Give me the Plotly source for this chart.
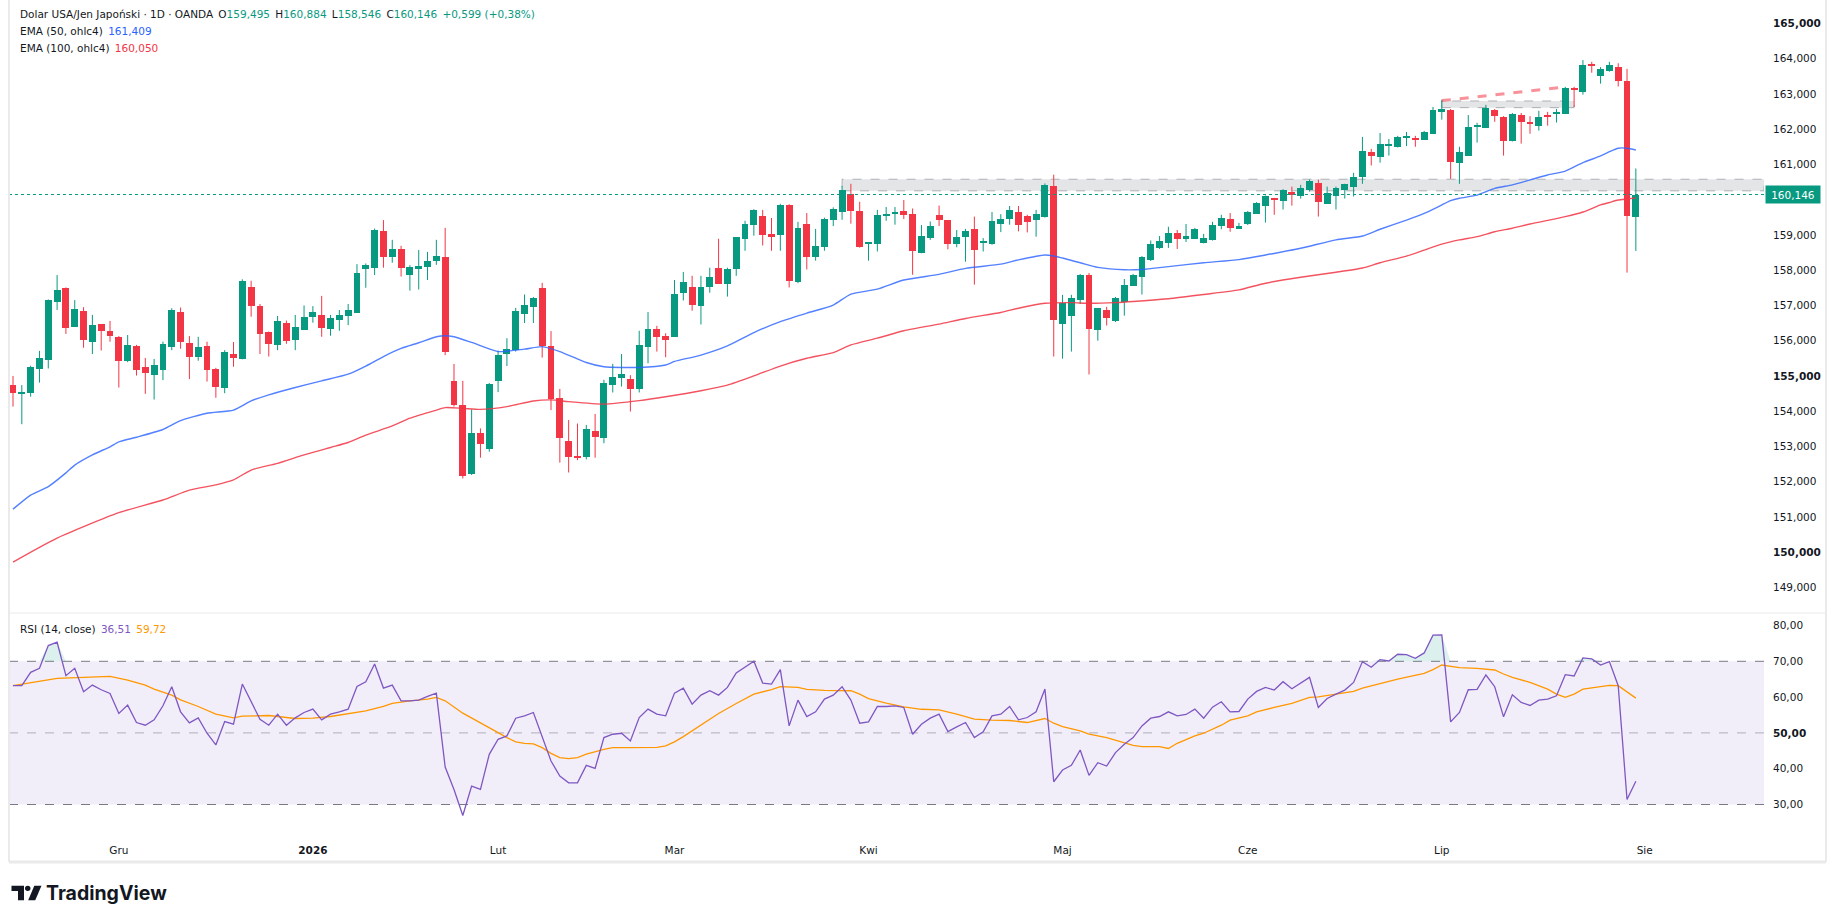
import plotly.graph_objects as go
import pandas as pd

W, H = 1835, 923

# ---------------- data ----------------
start_date = "2025-11-13"
end_date = "2026-07-31"
holidays = ["2025-12-25", "2026-01-01"]

open_ = [154.74,154.51,154.52,155.21,155.45,157.11,157.49,156.40,156.84,155.97,
156.47,156.27,156.11,155.42,155.86,155.25,155.04,155.17,155.83,156.81,
155.92,155.55,155.85,155.20,154.67,155.62,155.49,157.51,156.98,156.25,
155.88,156.51,156.02,156.30,156.68,156.73,156.34,156.60,156.71,156.79,
158.03,158.07,159.11,158.38,158.60,157.87,158.04,158.10,158.26,158.37,
154.86,154.17,152.22,153.38,152.94,154.86,155.63,155.73,156.77,156.96,
157.49,155.86,154.37,153.16,152.73,152.69,153.45,153.23,154.75,154.94,
154.90,154.64,155.83,156.33,156.13,156.11,157.36,157.53,156.99,157.53,
158.06,157.62,158.02,158.87,159.29,159.54,159.03,159.01,159.85,157.65,
159.31,158.38,158.67,159.43,159.66,160.17,159.68,158.75,158.75,159.56,
159.61,159.68,159.59,158.50,158.92,159.57,159.41,158.75,158.94,159.17,
158.79,158.75,159.32,159.45,159.65,159.54,159.41,159.51,160.39,156.48,
156.71,157.15,157.86,156.30,156.87,156.56,157.10,157.56,157.81,158.29,
158.63,158.77,159.06,158.87,158.89,158.78,158.86,159.25,159.45,159.18,
159.32,159.60,159.83,160.03,159.97,160.22,160.09,160.28,160.47,159.89,
160.11,160.28,160.37,160.63,161.35,161.22,161.53,161.48,161.77,161.75,
161.70,161.86,162.50,162.54,161.05,161.25,162.07,162.04,162.53,162.35,
161.67,162.40,162.19,162.10,162.40,162.43,162.44,163.15,163.06,163.84,
163.52,163.66,163.75,163.37,159.495]

high = [155.00,154.74,155.29,155.71,157.17,157.86,157.51,157.15,156.95,156.73,
156.47,156.56,156.13,156.16,155.88,155.51,155.48,155.97,156.92,156.94,
156.13,156.11,155.97,155.23,155.73,155.96,157.74,157.70,157.04,156.26,
156.70,156.57,156.73,157.00,156.98,157.27,156.73,156.87,157.04,158.17,
158.19,159.18,159.42,158.86,158.69,158.14,158.57,158.52,158.86,159.20,
155.34,154.86,154.05,153.51,154.80,155.72,156.07,156.93,157.31,157.24,
157.64,156.27,154.63,153.75,153.65,153.61,153.92,154.89,155.34,155.62,
155.02,156.28,156.81,156.42,156.21,157.72,157.95,157.84,157.84,158.07,
158.89,158.07,158.94,159.40,159.73,159.71,159.48,159.88,159.87,159.37,
159.62,159.17,159.49,159.78,160.39,160.45,159.94,158.80,159.71,159.79,
159.79,159.99,159.75,159.28,159.38,159.83,159.42,159.14,159.17,159.52,
158.91,159.65,159.59,159.82,159.82,159.57,159.71,160.46,160.71,157.30,
157.30,157.89,157.92,156.93,156.96,157.24,157.75,157.89,158.40,158.84,
158.97,159.23,159.14,159.31,159.20,159.03,159.37,159.57,159.62,159.34,
159.68,159.93,160.12,160.05,160.30,160.37,160.42,160.57,160.57,160.37,
160.37,160.45,160.76,161.78,161.44,161.89,161.72,161.81,161.92,161.81,
161.95,162.63,162.83,162.57,161.50,162.40,162.18,162.69,162.57,162.37,
162.46,162.46,162.37,162.52,162.49,162.57,163.20,163.20,163.96,163.91,
163.76,163.91,163.87,163.71,160.884]

low = [154.13,153.63,154.41,154.81,155.21,156.87,156.19,156.40,155.80,155.62,
155.72,155.97,154.67,155.39,155.01,154.49,154.33,154.88,155.73,155.77,
154.91,155.43,154.84,154.38,154.51,155.26,155.47,156.68,155.62,155.55,
155.73,155.91,155.73,156.30,156.51,156.11,156.14,156.28,156.44,156.79,
157.50,157.86,158.07,158.21,157.82,157.42,157.45,157.72,158.15,155.59,
154.13,152.09,152.19,152.68,152.85,154.54,155.28,155.69,156.50,156.50,
155.52,154.03,152.54,152.26,152.61,152.63,152.68,153.09,154.53,154.70,
153.99,154.53,155.36,155.69,155.53,156.11,157.14,156.85,156.46,157.36,
157.62,157.25,157.84,158.55,158.98,158.70,158.55,158.55,157.51,157.63,
158.02,158.27,158.55,159.25,159.43,159.32,158.64,158.27,158.53,159.40,
159.29,159.45,157.87,158.48,158.86,159.25,158.59,158.65,158.24,157.59,
158.53,158.72,159.08,159.29,159.10,159.07,158.95,159.49,155.55,155.49,
155.69,157.04,155.04,156.00,156.43,156.53,156.71,157.56,157.31,158.26,
158.60,158.63,158.60,158.80,158.89,158.76,158.84,159.16,159.09,159.18,
159.28,159.60,159.35,159.57,159.72,159.83,160.03,160.23,159.52,159.89,
159.72,160.03,160.09,160.45,160.97,161.05,161.25,161.48,161.52,161.50,
161.70,161.86,162.27,160.59,160.45,161.25,161.62,162.03,162.21,161.25,
161.65,161.59,161.87,161.96,162.10,162.19,162.44,162.63,162.98,163.60,
163.29,163.63,163.21,157.93,158.546]

close = [154.51,154.52,155.26,155.51,157.15,157.44,156.37,156.90,156.02,156.44,
156.26,156.13,155.43,155.88,155.17,155.09,155.31,155.91,156.87,155.97,
155.55,155.82,155.17,154.69,155.68,155.52,157.69,156.99,156.20,155.91,
156.56,156.00,156.40,156.68,156.81,156.37,156.65,156.74,156.87,157.92,
158.15,159.15,158.38,158.60,158.07,158.10,158.12,158.26,158.40,155.68,
154.17,152.16,153.38,153.07,154.77,155.59,155.76,156.85,157.01,157.22,
155.86,154.34,153.25,152.71,152.68,153.49,153.28,154.79,154.96,155.06,
154.64,155.88,156.33,156.09,156.02,157.33,157.67,157.02,157.53,157.82,
157.62,158.03,158.94,159.31,159.71,159.01,158.95,159.85,157.68,159.20,
158.38,158.69,159.46,159.73,160.27,159.68,158.67,158.77,159.57,159.59,
159.65,159.57,158.53,158.97,159.25,159.41,158.75,158.94,159.11,158.57,
158.81,159.40,159.45,159.71,159.29,159.38,159.59,160.43,156.59,157.06,
157.21,157.86,156.33,156.93,156.65,157.21,157.58,157.86,158.36,158.74,
158.83,159.06,158.89,158.97,159.17,158.91,159.28,159.48,159.21,159.25,
159.65,159.91,160.09,160.00,160.27,160.14,160.33,160.53,159.92,160.19,
160.34,160.45,160.65,161.38,161.25,161.58,161.55,161.78,161.79,161.70,
161.92,162.54,162.56,161.07,161.35,162.06,162.11,162.60,162.36,161.65,
162.43,162.21,162.16,162.35,162.37,162.47,163.17,163.12,163.82,163.81,
163.71,163.82,163.38,159.547,160.146]

ema50_idx = [0,2,4,6,7,9,11,12,14,17,19,22,25,27,29,32,35,38,40,42,44,46,48,49,50,52,55,58,60,62,65,
             67,71,74,75,78,81,84,87,90,93,95,98,101,105,108,112,114,117,118,121,123,126,128,131,
             135,139,142,146,150,153,155,158,160,162,163,164,166,168,170,172,174,176,178,180,181,182,183,184]
ema50 = [151.22,151.62,151.86,152.25,152.47,152.76,152.99,153.13,153.26,153.48,153.73,153.94,154.03,154.29,
         154.46,154.67,154.86,155.05,155.28,155.55,155.78,155.94,156.11,156.14,156.11,155.95,155.69,155.76,
         155.83,155.69,155.38,
         155.26,155.24,155.31,155.41,155.59,155.85,156.23,156.54,156.78,157.01,157.32,157.46,157.72,157.88,
         158.05,158.17,158.29,158.43,158.40,158.21,158.08,158.01,158.02,158.10,
         158.21,158.30,158.43,158.62,158.86,158.97,159.16,159.42,159.61,159.85,159.97,160.04,160.13,160.32,
         160.42,160.56,160.70,160.81,161.05,161.24,161.36,161.46,161.46,161.41]

ema100_idx = [0,5,12,17,20,23,25,27,30,33,36,38,40,43,45,48,49,51,53,56,59,61,63,67,71,74,78,81,84,87,90,
              93,95,98,101,105,108,112,114,117,120,122,125,127,131,135,139,142,146,150,153,155,158,160,
              162,164,166,168,170,172,176,178,180,181,182,183,184]
ema100 = [149.72,150.40,151.12,151.48,151.76,151.91,152.05,152.33,152.52,152.76,152.97,153.11,153.32,153.58,
          153.80,154.03,154.10,154.08,154.05,154.13,154.29,154.32,154.27,154.20,154.30,154.41,154.58,154.74,
          155.00,155.28,155.50,155.66,155.88,156.07,156.28,156.47,156.63,156.80,156.92,157.06,157.08,157.06,
          157.08,157.11,157.19,157.31,157.44,157.63,157.80,157.94,158.06,158.21,158.40,158.57,158.74,158.86,
          158.95,159.09,159.19,159.31,159.52,159.65,159.85,159.92,159.99,160.02,160.05]

rsi = [63.18,63.18,66.92,68.04,74.39,75.33,65.98,68.04,61.50,63.36,
62.06,61.03,55.42,57.76,52.90,52.15,53.64,57.57,62.90,55.89,
52.80,54.21,49.91,46.64,53.18,52.43,63.64,58.69,53.83,52.15,
55.23,52.15,54.21,55.70,56.64,53.64,55.23,55.89,56.64,62.99,
64.30,69.25,62.52,63.36,58.97,58.97,59.16,60.19,61.12,40.47,
34.21,26.92,35.14,34.21,44.02,48.22,49.16,54.11,54.77,55.70,
48.69,42.15,37.94,36.07,36.07,40.93,40.09,48.69,49.63,49.91,
47.76,54.30,56.64,55.23,54.77,61.12,62.52,58.04,60.56,61.78,
60.56,62.71,66.73,68.32,70.00,63.93,63.64,67.66,51.96,59.16,
54.58,55.89,59.44,60.56,62.90,59.16,52.71,53.08,57.38,57.38,
57.57,57.10,49.63,52.43,54.11,55.23,50.37,51.68,52.90,48.69,
50.28,54.77,55.23,57.38,53.64,54.30,55.89,62.24,36.36,39.63,
40.93,45.23,38.13,41.68,40.75,44.49,46.82,48.69,51.96,54.11,
54.58,55.89,54.77,55.14,56.64,54.11,57.20,58.69,55.89,55.98,
59.44,61.59,62.71,61.96,64.30,62.34,63.93,65.51,57.10,59.63,
60.84,61.96,64.11,69.91,68.32,70.47,70.09,71.96,71.87,70.84,
72.34,77.29,77.38,53.08,55.70,62.06,62.15,66.17,62.90,54.49,
60.65,58.50,57.66,59.16,59.44,60.37,66.26,65.89,70.93,70.65,
68.97,69.91,63.18,31.40,36.51]

rsi_ma_idx = [0,3,5,8,11,13,15,16,18,19,21,23,25,26,29,32,34,36,38,40,42,43,45,47,48,49,51,52,54,55,56,57,
              58,59,60,61,62,63,64,65,67,68,70,73,74,75,76,77,79,80,82,84,86,87,89,90,92,95,96,97,99,101,
              103,105,107,109,111,113,115,117,118,119,121,122,124,126,127,128,130,131,132,134,135,137,138,
              140,141,143,145,147,148,150,152,153,155,157,160,161,162,164,166,168,169,170,172,174,175,176,
              177,178,180,181,182,183,184]
rsi_ma = [63.18,64.49,65.23,65.51,65.79,64.77,63.36,62.24,60.56,59.25,57.38,55.23,54.21,54.67,54.86,54.02,
          54.11,54.58,55.42,56.17,57.38,58.22,58.97,59.44,59.91,58.97,55.51,54.21,51.50,50.09,48.69,47.48,
          47.10,46.92,45.89,44.30,43.08,42.80,43.08,44.10,45.42,45.89,45.89,45.98,46.36,47.48,48.97,50.60,
          54.00,55.42,58.20,60.84,62.10,62.90,62.71,62.15,61.87,61.78,60.84,59.60,58.30,57.30,
          56.60,56.45,55.23,53.83,53.55,53.46,52.90,54.02,52.71,51.78,50.56,49.63,48.69,47.29,46.54,46.17,
          46.17,45.65,47.10,49.16,49.91,52.15,53.55,
          54.77,55.89,57.10,58.22,59.91,60.09,60.84,61.59,62.52,63.83,65.05,66.64,67.66,68.97,68.22,68.04,
          67.57,66.45,65.51,64.11,62.24,60.84,59.91,
          60.84,62.24,62.90,63.27,63.18,61.50,59.72]

month_names = {1: "2026", 2: "Lut", 3: "Mar", 4: "Kwi", 5: "Maj", 6: "Cze",
               7: "Lip", 8: "Sie", 9: "Wrz", 10: "Paź", 11: "Lis", 12: "Gru"}
price_ticks = [149, 150, 151, 152, 153, 154, 155, 156, 157, 158, 159, 161, 162, 163, 164, 165]
price_bold = [150, 155, 165]
rsi_ticks = [30, 40, 50, 60, 70, 80]

last_price = 160.146
zone_main = dict(x0=94, price_lo=160.25, price_hi=160.58)
zone_top = dict(x0=162, x1=177, price_lo=162.61, price_hi=162.80)
trend_line = dict(x0=162, y0=162.81, x1=176.2, y1=163.20)

# ---------------- layout constants (pixels) ----------------
PLOT_L, PLOT_R = 9, 1764
PRICE_T, PRICE_B = 0, 613
RSI_T, RSI_B = 613, 829
X_RANGE = [-0.454, 198.53]
PRICE_RANGE = [148.274, 165.664]
RSI_RANGE = [23.16, 83.49]

UP = "#089981"
DOWN = "#F23645"
TXT = "#131722"
FONT = "DejaVu Sans"
FS = 10.5


def px(x):
    return x / W


def py(y):
    return 1 - y / H


dates = [d for d in pd.bdate_range(start_date, end_date) if d.strftime("%Y-%m-%d") not in holidays]
n = len(dates)
idx = list(range(n))

# month tick positions (first trading day of each month, plus next month start)
tickvals, ticktext = [], []
for i in range(1, n):
    if dates[i].month != dates[i - 1].month:
        tickvals.append(i)
        ticktext.append(month_names[dates[i].month])
nxt = dates[-1] + pd.offsets.BDay(1)
if nxt.month != dates[-1].month:
    tickvals.append(n)
    ticktext.append(month_names[nxt.month])
ticktext = ["<b>%s</b>" % t if t.isdigit() else t for t in ticktext]

fig = go.Figure()

# wicks
for color, cond in ((UP, lambda i: close[i] >= open_[i]), (DOWN, lambda i: close[i] < open_[i])):
    xs, ys = [], []
    for i in idx:
        if cond(i):
            xs += [i, i, None]
            ys += [low[i], high[i], None]
    fig.add_trace(go.Scatter(x=xs, y=ys, mode="lines", line=dict(color=color, width=1),
                             hoverinfo="skip", showlegend=False, xaxis="x", yaxis="y"))

# bodies
for color, cond in ((UP, lambda i: close[i] >= open_[i]), (DOWN, lambda i: close[i] < open_[i])):
    sel = [i for i in idx if cond(i)]
    fig.add_trace(go.Bar(x=sel,
                         y=[max(abs(close[i] - open_[i]), 0.03) for i in sel],
                         base=[min(open_[i], close[i]) for i in sel],
                         width=0.78, marker=dict(color=color, line=dict(width=0)),
                         hoverinfo="skip", showlegend=False, xaxis="x", yaxis="y"))

# EMAs
fig.add_trace(go.Scatter(x=ema100_idx, y=ema100, mode="lines", line=dict(color="#F23645", width=1.4, shape="spline", smoothing=0.6),
                         opacity=0.85, hoverinfo="skip", showlegend=False, xaxis="x", yaxis="y"))
fig.add_trace(go.Scatter(x=ema50_idx, y=ema50, mode="lines", line=dict(color="#2962FF", width=1.4, shape="spline", smoothing=0.6),
                         opacity=0.8, hoverinfo="skip", showlegend=False, xaxis="x", yaxis="y"))

# RSI overbought fill
fig.add_trace(go.Scatter(x=idx, y=[70] * n, mode="lines", line=dict(width=0), hoverinfo="skip",
                         showlegend=False, xaxis="x", yaxis="y2"))
fig.add_trace(go.Scatter(x=idx, y=[max(v, 70) for v in rsi], mode="lines", line=dict(width=0),
                         fill="tonexty", fillcolor="rgba(8,153,129,0.14)", hoverinfo="skip",
                         showlegend=False, xaxis="x", yaxis="y2"))
# RSI MA and RSI
fig.add_trace(go.Scatter(x=rsi_ma_idx, y=rsi_ma, mode="lines", line=dict(color="#FF9800", width=1.3),
                         hoverinfo="skip", showlegend=False, xaxis="x", yaxis="y2"))
fig.add_trace(go.Scatter(x=idx, y=rsi, mode="lines", line=dict(color="#7E57C2", width=1.3),
                         hoverinfo="skip", showlegend=False, xaxis="x", yaxis="y2"))

shapes = []
# RSI band and levels
shapes.append(dict(type="rect", xref="paper", yref="y2", x0=px(PLOT_L), x1=px(PLOT_R), y0=30, y1=70,
                   fillcolor="rgba(126,87,194,0.1)", line=dict(width=0), layer="below"))
for lvl, col in ((70, "#787B86"), (50, "rgba(120,123,134,0.55)"), (30, "#787B86")):
    shapes.append(dict(type="line", xref="paper", yref="y2", x0=px(PLOT_L), x1=px(PLOT_R), y0=lvl, y1=lvl,
                       line=dict(color=col, width=1, dash="dash"), layer="below"))
# zones
shapes.append(dict(type="rect", xref="x", yref="y", x0=zone_main["x0"], x1=X_RANGE[1],
                   y0=zone_main["price_lo"], y1=zone_main["price_hi"],
                   fillcolor="rgba(120,123,134,0.2)", line=dict(color="rgba(120,123,134,0.55)", width=1, dash="dash"),
                   layer="below"))
shapes.append(dict(type="rect", xref="x", yref="y", x0=zone_top["x0"], x1=zone_top["x1"],
                   y0=zone_top["price_lo"], y1=zone_top["price_hi"],
                   fillcolor="rgba(120,123,134,0.2)", line=dict(color="rgba(120,123,134,0.55)", width=1, dash="dash"),
                   layer="below"))
shapes.append(dict(type="line", xref="x", yref="y", x0=trend_line["x0"], y0=trend_line["y0"],
                   x1=trend_line["x1"], y1=trend_line["y1"],
                   line=dict(color="rgba(242,54,69,0.55)", width=3, dash="dash")))
# last price line
shapes.append(dict(type="line", xref="paper", yref="y", x0=px(PLOT_L), x1=px(PLOT_R), y0=last_price, y1=last_price,
                   line=dict(color=UP, width=1, dash="dot")))
# frame lines
BORDER = "#EAEAEA"
shapes += [
    dict(type="line", xref="paper", yref="paper", x0=px(9), x1=px(9), y0=py(0), y1=py(862), line=dict(color=BORDER, width=2)),
    dict(type="line", xref="paper", yref="paper", x0=px(1826), x1=px(1826), y0=py(0), y1=py(862), line=dict(color=BORDER, width=2)),
    dict(type="line", xref="paper", yref="paper", x0=px(9), x1=px(1826), y0=py(862), y1=py(862), line=dict(color=BORDER, width=3)),
    dict(type="line", xref="paper", yref="paper", x0=px(9), x1=px(1826), y0=py(613), y1=py(613), line=dict(color=BORDER, width=1)),
]


def path(points):
    s = "M %f %f " % (px(points[0][0]), py(points[0][1]))
    for x, y in points[1:]:
        s += "L %f %f " % (px(x), py(y))
    return s + "Z"


LOGO = "#131722"
shapes.append(dict(type="path", xref="paper", yref="paper",
                   path=path([(11.5, 885.7), (24, 885.7), (24, 900.3), (18, 900.3), (18, 891), (11.5, 891)]),
                   fillcolor=LOGO, line=dict(width=0)))
shapes.append(dict(type="circle", xref="paper", yref="paper", x0=px(25), x1=px(30.5), y0=py(891), y1=py(885.7),
                   fillcolor=LOGO, line=dict(width=0)))
shapes.append(dict(type="path", xref="paper", yref="paper",
                   path=path([(34.3, 885.7), (41.5, 885.7), (35.2, 900.3), (28.2, 900.3)]),
                   fillcolor=LOGO, line=dict(width=0)))

S = "\u2002"
ann = []
g = lambda t: '<span style="color:%s">%s</span>' % (UP, t)
ann.append(dict(text="Dolar USA/Jen Japoński · 1D · OANDA" + S + "O" + g("159,495") + S + "H" + g("160,884") + S +
                "L" + g("158,546") + S + "C" + g("160,146") + S + g("+0,599 (+0,38%)"),
                x=px(18), y=py(14)))
ann.append(dict(text="EMA (50, ohlc4)" + S + '<span style="color:#2962FF">161,409</span>', x=px(18), y=py(30.7)))
ann.append(dict(text="EMA (100, ohlc4)" + S + '<span style="color:#F23645">160,050</span>', x=px(18), y=py(47.7)))
ann.append(dict(text="RSI (14, close)" + S + '<span style="color:#7E57C2">36,51</span>' + S +
                '<span style="color:#FF9800">59,72</span>', x=px(18), y=py(628.5)))
for a in ann:
    a.update(xref="paper", yref="paper", xanchor="left", yanchor="middle", showarrow=False,
             font=dict(family=FONT, size=FS, color=TXT))
# last price label
ann.append(dict(text="160,146", xref="paper", yref="y", x=px(PLOT_R + 1), y=last_price, xanchor="left", yanchor="middle",
                showarrow=False, bgcolor=UP, width=52, height=15, borderpad=1,
                font=dict(family=FONT, size=FS, color="white")))
# logo text
ann.append(dict(text="<b>TradingView</b>", xref="paper", yref="paper", x=px(44), y=py(893), xanchor="left",
                yanchor="middle", showarrow=False, font=dict(family="Inter", size=19.5, color=LOGO)))

fig.update_layout(
    width=W, height=H, margin=dict(l=0, r=0, t=0, b=0),
    paper_bgcolor="white", plot_bgcolor="rgba(0,0,0,0)",
    barmode="overlay", bargap=0, showlegend=False,
    shapes=shapes, annotations=ann,
    xaxis=dict(domain=[px(PLOT_L), px(PLOT_R)], range=X_RANGE, anchor="y2", showgrid=False, zeroline=False,
               showline=False, ticks="", tickvals=tickvals, ticktext=ticktext,
               tickfont=dict(family=FONT, size=FS, color=TXT), ticklabelstandoff=13, fixedrange=True),
    yaxis=dict(domain=[py(PRICE_B), py(PRICE_T)], range=PRICE_RANGE, side="right", anchor="x",
               showgrid=False, zeroline=False, showline=False, ticks="",
               tickvals=price_ticks,
               ticktext=[("<b>%.3f</b>" if v in price_bold else "%.3f") % v for v in price_ticks],
               tickfont=dict(family=FONT, size=FS, color=TXT), ticklabelstandoff=8, fixedrange=True),
    yaxis2=dict(domain=[py(RSI_B), py(RSI_T)], range=RSI_RANGE, side="right", anchor="x",
                showgrid=False, zeroline=False, showline=False, ticks="",
                tickvals=rsi_ticks,
                ticktext=[("<b>%.2f</b>" if v == 50 else "%.2f") % v for v in rsi_ticks],
                tickfont=dict(family=FONT, size=FS, color=TXT), ticklabelstandoff=8, fixedrange=True),
)
# decimal comma
fig.layout.yaxis.ticktext = [t.replace(".", ",") for t in fig.layout.yaxis.ticktext]
fig.layout.yaxis2.ticktext = [t.replace(".", ",") for t in fig.layout.yaxis2.ticktext]

fig.write_html("out.html", config={"displayModeBar": False})
